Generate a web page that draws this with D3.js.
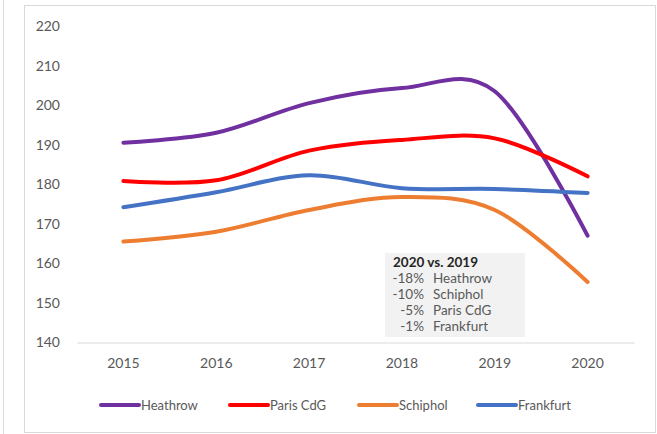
<!DOCTYPE html>
<html>
<head>
<meta charset="utf-8">
<script src="https://cdn.jsdelivr.net/npm/d3@7"></script>
<style>
body { margin: 0; background: #fff; }
svg text { font-family: Lato, "Open Sans", sans-serif; }
</style>
</head>
<body>
<svg id="chart"></svg>
<script>
var svgWidth = 657;
var svgHeight = 434;

var years = ['2015', '2016', '2017', '2018', '2019', '2020'];
var heathrow = [190.5, 193, 200.5, 204.3, 203.5, 167];
var parisCdg = [180.8, 181, 188.5, 191.2, 191.6, 182];
var schiphol = [165.5, 168, 173.5, 176.8, 173.5, 155.3];
var frankfurt = [174.2, 178, 182.3, 179, 178.8, 177.8];
var yTicks = [140, 150, 160, 170, 180, 190, 200, 210, 220];
var seriesNames = ['Heathrow', 'Paris CdG', 'Schiphol', 'Frankfurt'];
var seriesColors = ['#7030a0', '#ff0000', '#ed7d31', '#4472c4'];
var changeLabels = ['-18%', '-10%', '-5%', '-1%'];
var changeNames = ['Heathrow', 'Schiphol', 'Paris CdG', 'Frankfurt'];

var series = [heathrow, parisCdg, schiphol, frankfurt];

var svg = d3.select('#chart')
	.attr('width', svgWidth)
	.attr('height', svgHeight);

// neighbouring frame edge and chart border
svg.append('line')
	.attr('x1', 3.5).attr('x2', 3.5)
	.attr('y1', 0).attr('y2', svgHeight)
	.attr('stroke', '#d9d9d9');
svg.append('rect')
	.attr('x', 24.5).attr('y', 5.5)
	.attr('width', 631).attr('height', 427)
	.attr('fill', 'none')
	.attr('stroke', '#d9d9d9');

var xScale = d3.scaleBand()
	.domain(years)
	.range([77, 634]);
var yScale = d3.scaleLinear()
	.domain([140, 220])
	.range([342.5, 26]);

var yAxis = d3.axisLeft(yScale)
	.tickValues(yTicks)
	.tickSize(0)
	.tickPadding(0);
var yG = svg.append('g')
	.attr('transform', 'translate(60,0)')
	.call(yAxis);
yG.select('.domain').remove();
yG.selectAll('text')
	.attr('fill', '#595959')
	.style('font-size', '14px');

var xAxis = d3.axisBottom(xScale)
	.tickSize(0)
	.tickPadding(16);
var xG = svg.append('g')
	.attr('transform', 'translate(0,342.5)')
	.call(xAxis);
xG.select('.domain')
	.attr('stroke', '#d9d9d9')
	.attr('stroke-width', 1);
xG.selectAll('text')
	.attr('fill', '#595959')
	.style('font-size', '14px');

// annotation box
var box = svg.append('g');
box.append('rect')
	.attr('x', 385).attr('y', 253)
	.attr('width', 140).attr('height', 84)
	.attr('fill', '#f2f2f2');
box.append('text')
	.attr('x', 393).attr('y', 267)
	.attr('fill', '#262626')
	.style('font-size', '13.5px')
	.style('font-weight', 'bold')
	.text('2020 vs. 2019');
changeLabels.forEach(function(d, i) {
	box.append('text')
		.attr('x', 424).attr('y', 283 + i * 16)
		.attr('text-anchor', 'end')
		.attr('fill', '#595959')
		.style('font-size', '13.5px')
		.text(d);
	box.append('text')
		.attr('x', 433).attr('y', 283 + i * 16)
		.attr('fill', '#595959')
		.style('font-size', '13.5px')
		.text(changeNames[i]);
});

var line = d3.line()
	.x(function(d, i) { return xScale(years[i]) + xScale.bandwidth() / 2; })
	.y(function(d) { return yScale(d); })
	.curve(d3.curveCardinal.tension(0));

svg.selectAll('path.series')
	.data(series)
	.enter()
	.append('path')
	.attr('class', 'series')
	.attr('d', line)
	.attr('fill', 'none')
	.attr('stroke', function(d, i) { return seriesColors[i]; })
	.attr('stroke-width', 4)
	.attr('stroke-linecap', 'round');

// legend
var legendX = [101, 230, 359, 478];
var legend = svg.selectAll('g.legend')
	.data(seriesNames)
	.enter()
	.append('g')
	.attr('class', 'legend')
	.attr('transform', function(d, i) { return 'translate(' + legendX[i] + ',405)'; });
legend.append('line')
	.attr('x1', 0).attr('x2', 38)
	.attr('y1', 0).attr('y2', 0)
	.attr('stroke', function(d, i) { return seriesColors[i]; })
	.attr('stroke-width', 4)
	.attr('stroke-linecap', 'round');
legend.append('text')
	.attr('x', 40)
	.attr('y', 5)
	.attr('fill', '#595959')
	.style('font-size', '13px')
	.text(function(d) { return d; });
</script>
</body>
</html>
